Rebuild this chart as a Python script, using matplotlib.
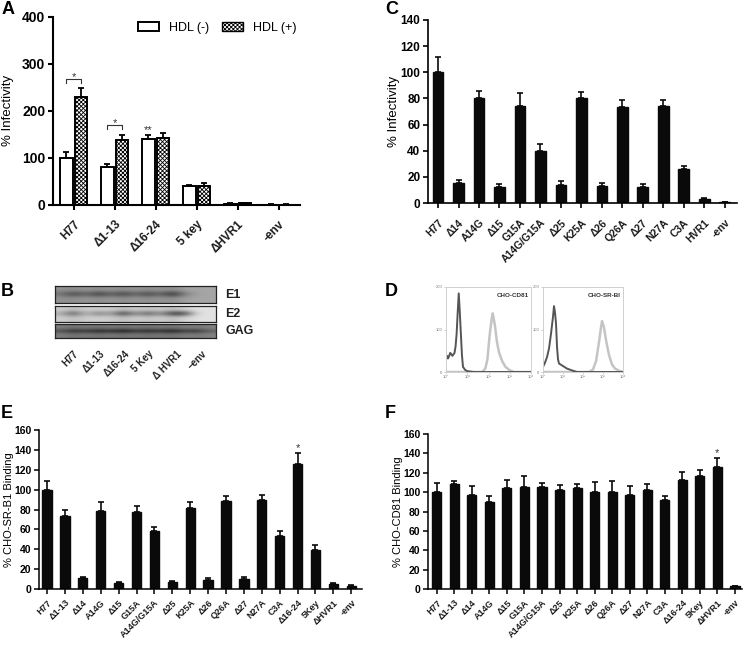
#!/usr/bin/env python3
import matplotlib
matplotlib.use("Agg")
import matplotlib.pyplot as plt
from matplotlib.patches import Patch
import numpy as np

plt.rcParams['font.family'] = ['Liberation Sans', 'DejaVu Sans']
plt.rcParams['hatch.linewidth'] = 0.6

W, H = 745, 650

# panel A
a_labels = ['H77', 'Δ1-13', 'Δ16-24', '5 key', 'ΔHVR1', '-env']
a_minus = [100, 81, 141, 40, 3, 1]
a_minus_err = [12, 6, 8, 3, 1, 0.5]
a_plus = [229, 139, 143, 41, 4, 1]
a_plus_err = [19, 9, 10, 6, 1, 0.5]

# panel C
c_labels = ['H77', 'Δ14', 'A14G', 'Δ15', 'G15A', 'A14G/G15A', 'Δ25', 'K25A', 'Δ26',
            'Q26A', 'Δ27', 'N27A', 'C3A', 'HVR1', '-env']
c_vals = [100, 15, 80, 12.5, 74, 40, 14, 80.5, 13, 73.5, 12.5, 74, 26, 3, 0.5]
c_err = [12, 2.5, 6, 2, 10, 5.5, 2.5, 4.5, 2.5, 5, 2, 5, 2.5, 0.5, 0.2]

# panels E and F
ef_labels = ['H77', 'Δ1-13', 'Δ14', 'A14G', 'Δ15', 'G15A', 'A14G/G15A', 'Δ25', 'K25A',
             'Δ26', 'Q26A', 'Δ27', 'N27A', 'C3A', 'Δ16-24', '5Key', 'ΔHVR1', '-env']
e_vals = [100, 73, 11, 78, 6.5, 77, 58, 7, 82, 9, 89, 10, 90, 53, 126, 39, 5.5, 3.5]
e_err = [9, 6, 1, 10, 1, 7, 4, 1, 6, 2, 5, 2, 5, 5, 11, 5, 1, 0.5]
f_vals = [100, 108, 97, 90, 104, 105, 105, 102, 104, 100, 100, 97, 102, 92, 113, 117, 126, 3]
f_err = [9, 4, 9, 6, 9, 12, 4, 5, 4, 10, 12, 9, 6, 4, 8, 6, 9, 0.5]

# panel B, gray levels across each blot strip
blot_labels = ['H77', 'Δ1-13', 'Δ16-24', '5 Key', 'Δ HVR1', '–env']
e1_bg = [145, 140, 150, 140, 150, 140, 150, 140, 150, 140, 160, 165, 165]
e1_band = [110, 55, 95, 45, 90, 50, 95, 55, 95, 25, 120, 160, 165]
e2_bg = [205, 190, 205, 205, 205, 190, 205, 195, 205, 190, 210, 225, 225]
e2_band = [170, 70, 185, 110, 160, 35, 140, 75, 140, 30, 45, 220, 225]
gag_bg = [125, 110, 120, 110, 120, 110, 120, 110, 120, 110, 125, 120, 130]
gag_band = [75, 35, 50, 25, 40, 12, 45, 30, 40, 15, 55, 40, 95]

# panel D, histogram outlines
d_dark1_x = [0, 0.05, 0.1, 0.2, 0.3, 0.4, 0.45, 0.5, 0.55, 0.6, 0.65, 0.7, 0.75, 0.8, 0.9, 1, 1.3, 4]
d_dark1_y = [28, 38, 32, 45, 38, 45, 60, 90, 140, 185, 140, 90, 40, 12, 5, 2, 0, 0]
d_light1_x = [0, 1.7, 1.85, 1.95, 2.05, 2.15, 2.2, 2.3, 2.4, 2.5, 2.65, 2.8, 3.0, 3.2, 4]
d_light1_y = [0, 0, 8, 30, 85, 125, 138, 110, 70, 45, 25, 12, 4, 0, 0]
d_dark2_x = [0, 0.1, 0.2, 0.3, 0.4, 0.5, 0.55, 0.6, 0.65, 0.7, 0.75, 0.8, 1.0, 1.2, 1.5, 1.7, 4]
d_dark2_y = [12, 22, 35, 55, 90, 130, 155, 140, 115, 60, 30, 20, 14, 8, 3, 0, 0]
d_light2_x = [0, 2.3, 2.5, 2.65, 2.8, 2.9, 2.95, 3.05, 3.15, 3.3, 3.45, 3.6, 3.8, 4]
d_light2_y = [0, 0, 6, 25, 70, 105, 120, 105, 75, 40, 18, 8, 3, 0]
d_ticks = [0, 1, 2, 3, 4]
d_tick_labels = ['10⁰', '10¹', '10²', '10³', '10⁴']

fig = plt.figure(figsize=(W / 100, H / 100), dpi=100)


def axes_px(left, top, right, bottom):
    return fig.add_axes([left / W, 1 - bottom / H, (right - left) / W, (bottom - top) / H])


def style(ax, ymax, step, lw, fs, xfs, xpad, ylabel, yfs, ylab_px, left_px, right_px, labels):
    ax.set_ylim(0, ymax)
    ax.set_yticks(np.arange(0, ymax + 1, step))
    ax.set_xticks(range(len(labels)))
    ax.set_xticklabels(labels, rotation=45, ha='right', rotation_mode='anchor',
                       fontsize=xfs, fontweight='bold', color='#1a1a1a')
    for t in ax.get_yticklabels():
        t.set_fontsize(fs)
        t.set_fontweight('bold')
    ax.spines['top'].set_visible(False)
    ax.spines['right'].set_visible(False)
    ax.spines['left'].set_linewidth(lw)
    ax.spines['bottom'].set_linewidth(lw)
    ax.tick_params(width=lw, length=3.5, pad=2)
    ax.tick_params(axis='x', pad=xpad)
    ax.set_ylabel(ylabel, fontsize=yfs)
    ax.yaxis.set_label_coords((ylab_px - left_px) / (right_px - left_px), 0.5)


def bars(ax, vals, err, width):
    x = np.arange(len(vals))
    ax.bar(x, vals, width, color='#0a0a0a', edgecolor='#0a0a0a')
    ax.errorbar(x, vals, yerr=[np.zeros(len(err)), err], fmt='none', ecolor='#0a0a0a',
                elinewidth=1.2, capsize=2.5, capthick=1.2)


# A
ax = axes_px(53, 16.7, 300, 205)
x = np.arange(len(a_labels))
off = 0.178
ax.bar(x - off, a_minus, 0.3, color='white', edgecolor='black', linewidth=1.4,
       yerr=[np.zeros(6), a_minus_err], error_kw=dict(elinewidth=1.3, capsize=2.5, capthick=1.3))
ax.bar(x + off, a_plus, 0.3, color='white', edgecolor='black', linewidth=1.4, hatch='xxxxxxxx',
       yerr=[np.zeros(6), a_plus_err], error_kw=dict(elinewidth=1.3, capsize=2.5, capthick=1.3))
ax.set_xlim(-0.505, 5.52)
style(ax, 400, 100, 1.5, 10, 8.5, 6, '% Infectivity', 9.5, 14, 53, 300, a_labels)
for i, top in [(0, 268), (1, 170)]:
    ax.plot([i - off, i - off, i + off, i + off], [top - 8, top, top, top - 8], color='#333333', lw=0.8)
    ax.text(i, top - 6, '*', ha='center', va='bottom', fontsize=8, color='#333333')
ax.text(2 - off, 149, '**', ha='center', va='bottom', fontsize=8, color='#333333')
ax.legend(handles=[Patch(facecolor='white', edgecolor='black', linewidth=1.4, label='HDL (-)'),
                   Patch(facecolor='white', edgecolor='black', linewidth=1.0, hatch='xxxxxxxx', label='HDL (+)')],
          ncol=2, frameon=False, fontsize=9, loc='upper left', bbox_to_anchor=(0.324, 1.0),
          handlelength=1.7, handleheight=0.8, columnspacing=1.0, handletextpad=0.8,
          borderaxespad=0)

# C
ax = axes_px(428, 20, 737, 203)
bars(ax, c_vals, c_err, 0.52)
ax.set_xlim(-0.49, 14.6)
style(ax, 140, 20, 1.2, 8.5, 7.5, 7, '% Infectivity', 9.5, 400, 428, 737, c_labels)

# E
ax = axes_px(39, 430, 362, 589)
bars(ax, e_vals, e_err, 0.52)
ax.set_xlim(-0.45, 17.6)
style(ax, 160, 20, 1.1, 7.5, 6.5, 3, '% CHO-SR-B1 Binding', 8, 14, 39, 362, ef_labels)
ax.text(14, 137, '*', ha='center', va='bottom', fontsize=8, color='#333333')

# F
ax = axes_px(428, 434, 742, 589)
bars(ax, f_vals, f_err, 0.52)
ax.set_xlim(-0.5, 17.4)
style(ax, 160, 20, 1.1, 7.5, 6.5, 3, '% CHO-CD81 Binding', 8, 403, 428, 742, ef_labels)
ax.text(16, 135, '*', ha='center', va='bottom', fontsize=8, color='#333333')

# B
for (top, bottom, bg, band, name) in [(286, 303, e1_bg, e1_band, 'E1'),
                                      (305.5, 322, e2_bg, e2_band, 'E2'),
                                      (324, 338, gag_bg, gag_band, 'GAG')]:
    ax = axes_px(55, top, 216, bottom)
    strip = np.array([bg, bg, band, bg, bg], dtype=float)
    ax.imshow(strip, cmap='gray', vmin=0, vmax=255, aspect='auto', interpolation='bicubic')
    ax.set_xticks([])
    ax.set_yticks([])
    for s in ax.spines.values():
        s.set_linewidth(0.9)
        s.set_color('#222222')
    fig.text(225 / W, 1 - (top + bottom) / 2 / H, name, fontsize=9, fontweight='bold',
             va='center', ha='left', color='#222222')
for xp, lab in zip([73, 100, 125, 148, 177, 202], blot_labels):
    fig.text(xp / W, 1 - 349 / H, lab, fontsize=7, fontweight='bold', rotation=45,
             ha='right', va='top', rotation_mode='anchor', color='#222222')

# D
for (left, right, dx, dy, lx, ly, name) in [(446, 531, d_dark1_x, d_dark1_y, d_light1_x, d_light1_y, 'CHO-CD81'),
                                            (543, 623, d_dark2_x, d_dark2_y, d_light2_x, d_light2_y, 'CHO-SR-BI')]:
    ax = axes_px(left, 287, right, 372)
    ax.plot(lx, ly, color='#c4c4c4', lw=1.8)
    ax.plot(dx, dy, color='#555555', lw=1.4)
    ax.set_xlim(0, 4)
    ax.set_ylim(0, 200)
    ax.set_xticks(d_ticks)
    ax.set_xticklabels(d_tick_labels, fontsize=3, color='#777777')
    ax.set_yticks([0, 100, 200])
    ax.set_yticklabels(['0', '100', '200'], fontsize=3, color='#777777')
    ax.tick_params(length=1.5, width=0.4, color='#aaaaaa', pad=1)
    for s in ax.spines.values():
        s.set_linewidth(0.7)
        s.set_color('#d0d0d0')
    ax.text(0.97, 0.9, name, transform=ax.transAxes, fontsize=4.5, fontweight='bold',
            ha='right', va='center', color='#333333')

# panel letters
for lab, xp, yp in [('A', 2, 9), ('C', 385, 9), ('B', 1, 292), ('D', 385, 292), ('E', 1, 414), ('F', 385, 414)]:
    fig.text(xp / W, 1 - yp / H, lab, fontsize=13, fontweight='bold', ha='left', va='center')

fig.savefig('out.png', dpi=100)
